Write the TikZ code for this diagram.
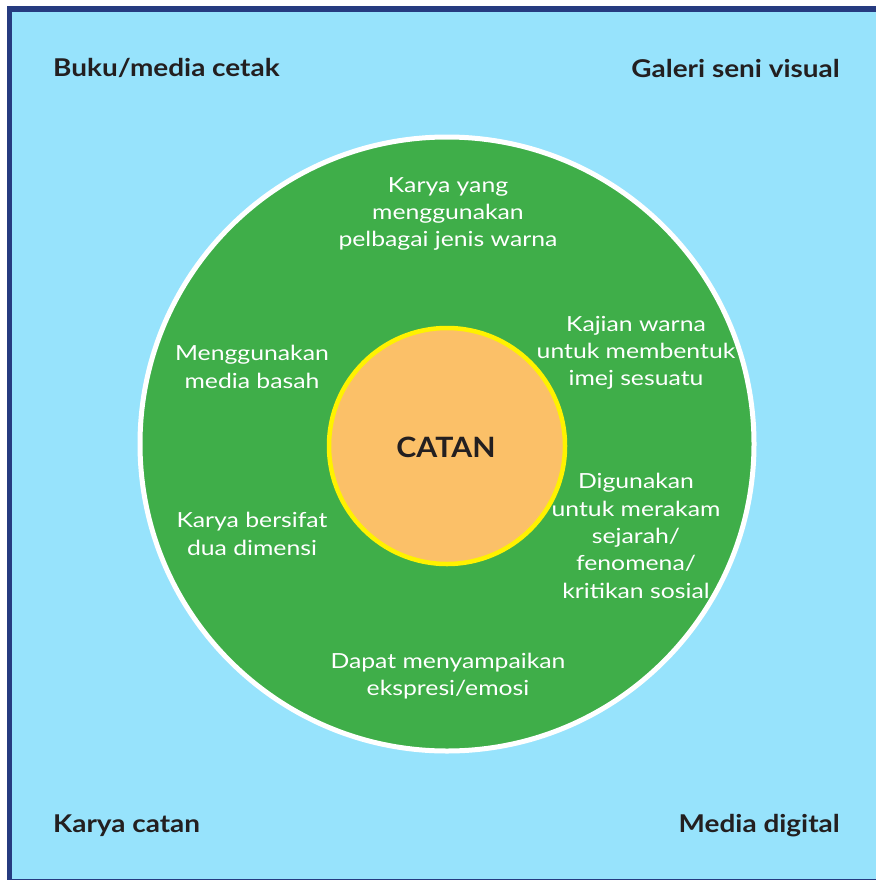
\documentclass[tikz,border=0pt]{standalone}
\usepackage{fontspec}
\setmainfont{Lato}
\newfontfamily\cornerfont[FakeStretch=1.14]{Lato}
\newfontfamily\innerfont[FakeStretch=1.19]{Lato}
\newfontfamily\centerfont[FakeStretch=1.08]{Lato}
\definecolor{skyb}{HTML}{97E3FC}
\definecolor{frameb}{HTML}{263B80}
\definecolor{greenc}{HTML}{3FAE49}
\definecolor{orangec}{HTML}{FBC068}
\definecolor{yellowc}{HTML}{FFF200}
\definecolor{darktext}{HTML}{231F20}
\begin{document}
\begin{tikzpicture}[x=1pt,y=-1pt,
  corner/.style={font=\cornerfont\fontsize{24.5}{28}\selectfont\bfseries,text=darktext,inner sep=0pt},
  inlabel/.style={font=\innerfont\fontsize{20.8}{27.3}\selectfont,text=white,align=center,inner sep=0pt}]
\useasboundingbox (0,0) rectangle (875,880);
\fill[white] (0,0) rectangle (875,880);
\fill[frameb] (7,6) rectangle (880,880);
\fill[skyb] (12,12) rectangle (880,878.5);
% circles
\node[circle,draw=white,line width=5pt,fill=greenc,minimum size=614pt,inner sep=0pt] (outer) at (447,444) {};
\node[circle,draw=yellowc,line width=4.5pt,fill=orangec,minimum size=236pt,inner sep=0pt] (inner) at (447,446) {};
\node[font=\centerfont\fontsize{28}{32}\selectfont\bfseries,text=darktext,inner sep=0pt] (catan) at (446,447) {CATAN};
% corner labels
\node[corner,anchor=west] (buku) at (53,68) {Buku/media cetak};
\node[corner,anchor=east] (galeri) at (840,68) {Galeri seni visual};
\node[corner,anchor=west] (karyacatan) at (53,826) {Karya catan};
\node[corner,anchor=east] (media) at (840,826) {Media digital};
% inner labels
\node[inlabel] (t1) at (448,214) {Karya yang\\menggunakan\\pelbagai jenis warna};
\node[inlabel] (t2) at (636,353) {Kajian warna\\untuk membentuk\\imej sesuatu};
\node[inlabel] (t3) at (252,367) {Menggunakan\\media basah};
\node[inlabel] (t4) at (636,536) {Digunakan\\untuk merakam\\sejarah/\\fenomena/\\kritikan sosial};
\node[inlabel] (t5) at (252,534) {Karya bersifat\\dua dimensi};
\node[inlabel] (t6) at (448,676) {Dapat menyampaikan\\ekspresi/emosi};
\end{tikzpicture}
\end{document}
